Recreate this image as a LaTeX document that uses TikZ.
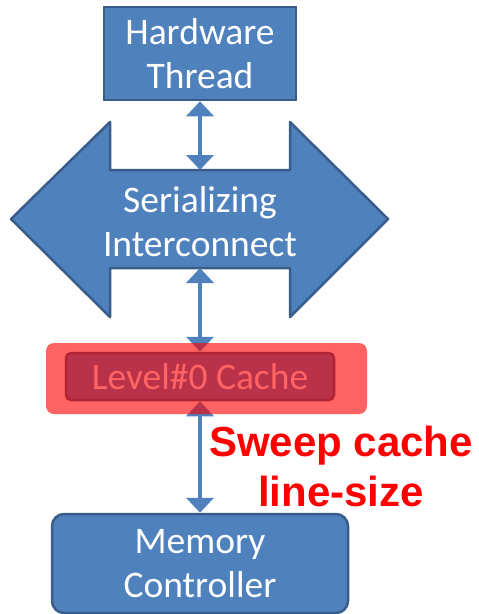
\documentclass[tikz,border=0pt]{standalone}
\usepackage{fontspec}
\setmainfont{Carlito}
\newfontfamily\alertfont{Liberation Sans}
\usepackage{tikz}
\usetikzlibrary{arrows.meta,positioning,calc}
\definecolor{boxblue}{HTML}{4F81BD}
\definecolor{boxedge}{HTML}{385D8A}
\definecolor{hilite}{HTML}{FF0000}

\begin{document}
\begin{tikzpicture}[x=1pt,y=-1pt,
  font=\fontsize{37.5}{44}\selectfont\color{white},
  unit/.style={draw=boxedge,fill=boxblue,line width=2.5pt,align=center,inner sep=0pt},
  link/.style={draw=boxblue,line width=4pt,{Triangle[width=27pt,length=15pt]}-{Triangle[width=27pt,length=15pt]}}]
\path[use as bounding box] (0,0) rectangle (479,614);
% thread and interconnect
\node[unit,minimum width=192pt,minimum height=93pt] (hw) at (200,53.5) {Hardware\\Thread};
\filldraw[draw=boxedge,fill=boxblue,line width=2.5pt,line join=round]
  (110,170) -- (290,170) -- (290,122) -- (388,219) -- (290,317) -- (290,268)
  -- (110,268) -- (110,317) -- (11,219) -- (110,122) -- cycle;
\node[align=center] (ic) at (200,222) {Serializing\\Interconnect};
\coordinate (ictop) at (200,170);
\coordinate (icbot) at (200,268);
% cache and memory
\node[unit,rounded corners=5pt,minimum width=268pt,minimum height=47pt] (l0) at (200,376.5) {Level\#0 Cache};
\node[unit,rounded corners=12pt,minimum width=296pt,minimum height=99pt] (mc) at (200,563.5) {Memory\\Controller};
\draw[link] (hw.south) -- (ictop);
\draw[link] (icbot) -- (l0.north);
\draw[link] (l0.south) -- (mc.north);
\fill[hilite,opacity=0.61,rounded corners=8pt] (46,343) rectangle (367,414);
\node[align=center,font=\alertfont\bfseries\fontsize{42}{50}\selectfont\color{red}] (sweep) at (341,466.5) {Sweep cache\\line-size};
\end{tikzpicture}
\end{document}
